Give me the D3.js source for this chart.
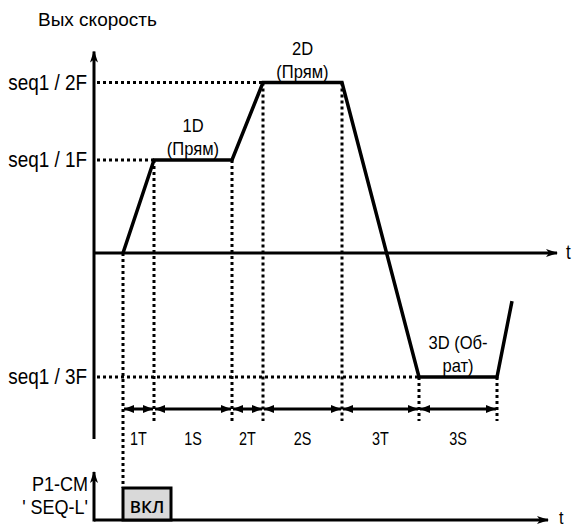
<!DOCTYPE html>
<html><head><meta charset="utf-8">
<script src="https://cdn.jsdelivr.net/npm/d3@7"></script>
<style>
body{margin:0;background:#fff;}
text{font-family:"Liberation Sans","Arial",sans-serif;fill:#000;}
</style></head>
<body><svg id="c" width="576" height="528"></svg>
<script>
// ---- data ----
const timeMarks = [2.9, 6.0, 13.8, 16.9, 24.8, 32.5, 40.3];   // phase boundaries
const phaseLabels = ["1T", "1S", "2T", "2S", "3T", "3S"];
const profileT = [2.9, 6.0, 13.8, 16.9, 24.8, 32.5, 40.3, 41.8];
const profileF = [0, 30, 30, 55, 55, -40, -40, -15.5];
const levelNames = ["seq1 / 2F", "seq1 / 1F", "seq1 / 3F"];
const levelValues = [55, 30, -40];
const levelEndT = [16.9, 6.0, 32.5];
const stepNames = [["1D", "(Прям)"], ["2D", "(Прям)"], ["3D (Об-", "рат)"]];
const signalOn = [2.9, 7.7];
const signalText = "ВКЛ";

const svg = d3.select("#c");
const x = d3.scaleLinear().domain([0, 46.3]).range([94, 557]);
const y = d3.scaleLinear().domain([-60, 65]).range([439, 51.5]);
const ySig = d3.scaleLinear().domain([0, 1.5]).range([520, 472]);

// text helper: condensed look via horizontal scaling
function label(tx, ty, str, size, anchor, sx){
  return svg.append("text")
    .attr("transform", `translate(${tx},${ty}) scale(${sx||1},1)`)
    .attr("text-anchor", anchor || "start").attr("font-size", size).text(str);
}

const defs = svg.append("defs");
defs.append("marker").attr("id","ax").attr("viewBox","0 0 12 10").attr("refX",11).attr("refY",5)
  .attr("markerWidth",12).attr("markerHeight",10).attr("markerUnits","userSpaceOnUse").attr("orient","auto")
  .append("path").attr("d","M0,1 L12,5 L0,9 L3,5 Z").attr("fill","#000");
defs.append("marker").attr("id","dim").attr("viewBox","0 0 10 8").attr("refX",10).attr("refY",4)
  .attr("markerWidth",10).attr("markerHeight",8).attr("markerUnits","userSpaceOnUse").attr("orient","auto-start-reverse")
  .append("path").attr("d","M0,0 L10,4 L0,8 Z").attr("fill","#000");

const dotted = {stroke:"#000","stroke-width":3,"stroke-dasharray":"3 3",fill:"none"};
function applyAttrs(sel, a){ for (const k in a) sel.attr(k, a[k]); return sel; }

// horizontal dotted level lines
levelValues.forEach((v,i)=>{
  applyAttrs(svg.append("line").attr("x1",x(0)+3).attr("x2",x(levelEndT[i])).attr("y1",y(v)).attr("y2",y(v)), dotted);
});
// vertical dotted lines
const profFAt = t => profileF[profileT.indexOf(t)];
timeMarks.forEach((t,i)=>{
  const top = y(profFAt(t));
  const bottom = i===0 ? ySig(1) : 421;
  applyAttrs(svg.append("line").attr("x1",x(t)).attr("x2",x(t)).attr("y1",top).attr("y2",bottom), dotted);
});

// axes
svg.append("line").attr("x1",x(0)).attr("x2",x(0)).attr("y1",y(-60)).attr("y2",y(65))
  .attr("stroke","#000").attr("stroke-width",3).attr("marker-end","url(#ax)");
svg.append("line").attr("x1",x(0)).attr("x2",x(46.3)).attr("y1",y(0)).attr("y2",y(0))
  .attr("stroke","#000").attr("stroke-width",3).attr("marker-end","url(#ax)");
label(x(46.3)+9, y(0)+6, "t", 20, "start", 0.85);
label(38, 26, "Вых скорость", 19, "start", 1);

levelValues.forEach((v,i)=>{
  label(87, y(v)+7, levelNames[i], 22, "end", 0.86);
});

// profile
svg.append("path").datum(profileT.map((t,i)=>[t,profileF[i]]))
  .attr("d", d3.line().x(d=>x(d[0])).y(d=>y(d[1])))
  .attr("fill","none").attr("stroke","#000").attr("stroke-width",3.5).attr("stroke-linejoin","miter");

// step labels
const stepPos = [[ (timeMarks[1]+timeMarks[2])/2, 30 ], [ (timeMarks[3]+timeMarks[4])/2, 55 ], [ (timeMarks[5]+timeMarks[6])/2, -40 ]];
stepNames.forEach((n,i)=>{
  const cx = x(stepPos[i][0]), by = y(stepPos[i][1]);
  label(cx, by-28, n[0], 18, "middle", 0.92);
  label(cx, by-5, n[1], 18, "middle", 0.92);
});

// dimension arrows
const dimY = 409;
phaseLabels.forEach((p,i)=>{
  const x1 = x(timeMarks[i]), x2 = x(timeMarks[i+1]);
  svg.append("line").attr("x1",x1+1).attr("x2",x2-1).attr("y1",dimY).attr("y2",dimY)
    .attr("stroke","#000").attr("stroke-width",3)
    .attr("marker-start","url(#dim)").attr("marker-end","url(#dim)");
  label((x1+x2)/2, 445, p, 18, "middle", 0.8);
});

// signal plot
svg.append("line").attr("x1",x(0)).attr("x2",x(0)).attr("y1",ySig(0)+1.5).attr("y2",ySig(1.5))
  .attr("stroke","#000").attr("stroke-width",3).attr("marker-end","url(#ax)");
svg.append("line").attr("x1",x(0)).attr("x2",x(45.4)).attr("y1",ySig(0)).attr("y2",ySig(0))
  .attr("stroke","#000").attr("stroke-width",3).attr("marker-end","url(#ax)");
label(x(45.4)+11, 524, "t", 19, "start", 0.85);
svg.append("rect").attr("x",x(signalOn[0])).attr("y",ySig(1)).attr("width",x(signalOn[1])-x(signalOn[0]))
  .attr("height",ySig(0)-ySig(1)).attr("fill","#d9d9d9").attr("stroke","#000").attr("stroke-width",3);
svg.append("text").attr("x",(x(signalOn[0])+x(signalOn[1]))/2).attr("y",513).attr("text-anchor","middle")
  .attr("font-size",17).style("font-family","'Open Sans',sans-serif").attr("font-weight",600).text(signalText);
label(88, 491, "P1-CM", 20, "end", 0.9);
label(88, 514, "' SEQ-L'", 20, "end", 0.9);
</script></body></html>
